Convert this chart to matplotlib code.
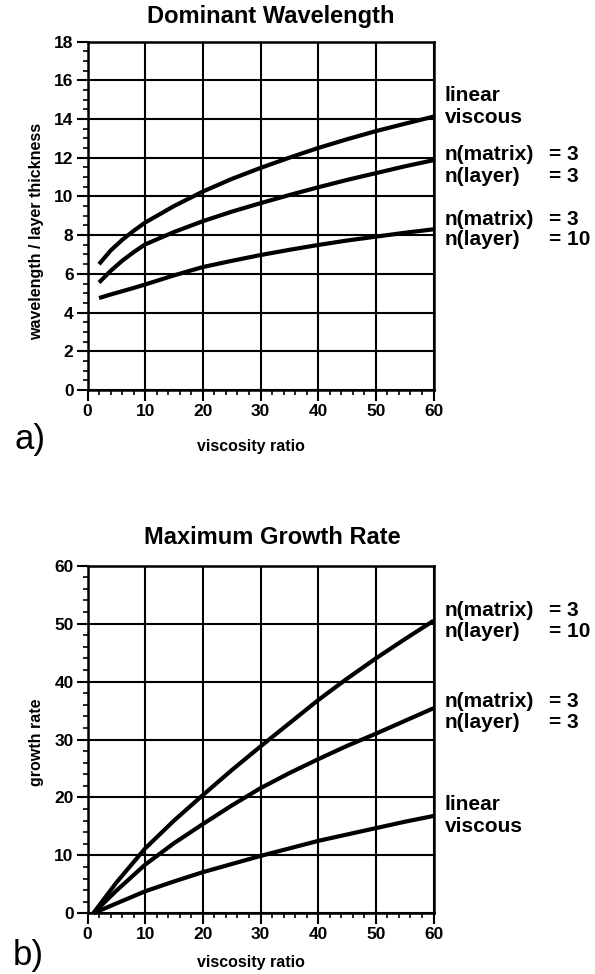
import matplotlib
matplotlib.use("Agg")
import matplotlib.pyplot as plt
from matplotlib.ticker import MultipleLocator
import matplotlib.transforms as mtransforms

plt.rcParams['font.family'] = ['Liberation Sans', 'DejaVu Sans']

# ---- data: Dominant Wavelength ----
x_wave = [2, 4, 6, 8, 10, 15, 20, 25, 30, 35, 40, 45, 50, 55, 60]
wave_linear = [6.5, 7.2, 7.75, 8.22, 8.65, 9.5, 10.25, 10.9, 11.47, 12.0, 12.5, 12.95, 13.37, 13.75, 14.12]
wave_n3_n3 = [5.55, 6.15, 6.67, 7.12, 7.52, 8.16, 8.72, 9.21, 9.65, 10.07, 10.47, 10.85, 11.2, 11.55, 11.87]
wave_n3_n10 = [4.75, 4.93, 5.1, 5.27, 5.45, 5.92, 6.35, 6.67, 6.97, 7.24, 7.49, 7.72, 7.92, 8.12, 8.3]

# ---- data: Maximum Growth Rate ----
x_growth = [1, 5, 10, 15, 20, 25, 30, 35, 40, 45, 50, 55, 60]
growth_n3_n10 = [0, 5.3, 11.2, 16.0, 20.4, 24.7, 28.8, 32.8, 36.8, 40.5, 44.0, 47.3, 50.5]
growth_n3_n3 = [0, 3.9, 8.4, 12.1, 15.4, 18.6, 21.6, 24.2, 26.6, 28.9, 31.0, 33.2, 35.4]
growth_linear = [0, 1.7, 3.8, 5.5, 7.1, 8.5, 9.9, 11.2, 12.5, 13.6, 14.7, 15.8, 16.8]

W, H = 595, 974
fig = plt.figure(figsize=(W / 100, H / 100), dpi=100)

def px_axes(x0, y0, x1, y1):
    return fig.add_axes([x0 / W, 1 - y1 / H, (x1 - x0) / W, (y1 - y0) / H])

ax1 = px_axes(87.5, 41.5, 433.5, 390)
ax2 = px_axes(87.5, 565.7, 433.5, 913.3)

ax1.set_ylim(0, 18)
ax1.yaxis.set_major_locator(MultipleLocator(2))
ax1.yaxis.set_minor_locator(MultipleLocator(0.5))
ax2.set_ylim(0, 60)
ax2.yaxis.set_major_locator(MultipleLocator(10))
ax2.yaxis.set_minor_locator(MultipleLocator(2))

LW = 3.0
for ax in (ax1, ax2):
    ax.set_xlim(0, 60)
    ax.xaxis.set_major_locator(MultipleLocator(10))
    ax.xaxis.set_minor_locator(MultipleLocator(2))
    ax.grid(True, which='major', color='black', lw=1.5)
    for s in ax.spines.values():
        s.set_linewidth(1.8)
    ax.tick_params(which='major', direction='out', length=8, width=1.5,
                   labelsize=12.5, pad=2)
    ax.tick_params(which='minor', direction='out', length=3.5, width=1.2)
    ax.tick_params(top=False, right=False)
    for lab in ax.get_xticklabels() + ax.get_yticklabels():
        lab.set_fontweight('bold')

kw = dict(color='black', lw=LW, solid_capstyle='butt', solid_joinstyle='round', clip_on=False)
ax1.plot(x_wave, wave_linear, **kw)
ax1.plot(x_wave, wave_n3_n3, **kw)
ax1.plot(x_wave, wave_n3_n10, **kw)

ax2.plot(x_growth, growth_n3_n10, **kw)
ax2.plot(x_growth, growth_n3_n3, **kw)
ax2.plot(x_growth, growth_linear, **kw)

# titles
fig.text(271 / W, 1 - 17 / H, 'Dominant Wavelength', ha='center', va='center',
         fontsize=17, fontweight='bold')
fig.text(272 / W, 1 - 537 / H, 'Maximum Growth Rate', ha='center', va='center',
         fontsize=17, fontweight='bold')

# axis labels
fig.text(36.5 / W, 1 - 231.5 / H, 'wavelength / layer thickness', rotation=90,
         ha='center', va='center', fontsize=11.5, fontweight='bold')
fig.text(36.5 / W, 1 - 742.5 / H, 'growth rate', rotation=90,
         ha='center', va='center', fontsize=11.5, fontweight='bold')
fig.text(251 / W, 1 - 446 / H, 'viscosity ratio', ha='center', va='center',
         fontsize=11.5, fontweight='bold')
fig.text(251 / W, 1 - 963 / H, 'viscosity ratio', ha='center', va='center',
         fontsize=11.5, fontweight='bold')

# panel letters
fig.text(30 / W, 1 - 440 / H, 'a)', ha='center', va='center', fontsize=25)
fig.text(28 / W, 1 - 956 / H, 'b)', ha='center', va='center', fontsize=25)

# curve labels
LFS = 15
def label(ax, y, left, right=None):
    tr = mtransforms.blended_transform_factory(fig.transFigure, ax.transData)
    ax.text(445 / W, y, left, transform=tr, ha='left', va='center',
            fontsize=LFS, fontweight='bold', clip_on=False)
    if right is not None:
        ax.text(549 / W, y, right, transform=tr, ha='left', va='center',
                fontsize=LFS, fontweight='bold', clip_on=False)

label(ax1, 15.2, 'linear')
label(ax1, 14.05, 'viscous')
label(ax1, 12.15, 'n(matrix)', '= 3')
label(ax1, 11.05, 'n(layer)', '= 3')
label(ax1, 8.8, 'n(matrix)', '= 3')
label(ax1, 7.75, 'n(layer)', '= 10')

label(ax2, 52.3, 'n(matrix)', '= 3')
label(ax2, 48.6, 'n(layer)', '= 10')
label(ax2, 36.5, 'n(matrix)', '= 3')
label(ax2, 33.0, 'n(layer)', '= 3')
label(ax2, 18.7, 'linear')
label(ax2, 14.9, 'viscous')

fig.savefig('out.png', dpi=100)
